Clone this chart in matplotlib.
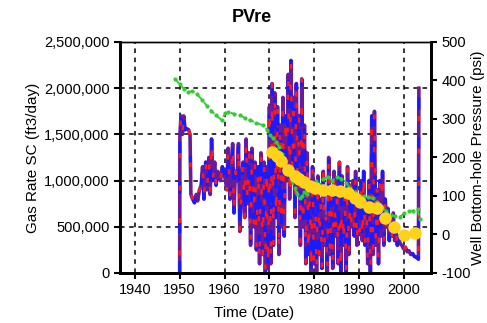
import numpy as np
import matplotlib
matplotlib.use("Agg")
import matplotlib.pyplot as plt

plt.rcParams['font.family'] = ['Liberation Sans', 'DejaVu Sans']

# gas rate (ft3/day)
rate_years = [1950.0, 1950.05, 1950.3, 1950.6, 1950.9, 1951.2, 1951.6, 1952.0, 1952.3, 1952.5,
              1952.9, 1953.3, 1953.7, 1954.0, 1954.4, 1954.8, 1955.1, 1955.4, 1955.8, 1956.1,
              1956.5, 1956.8, 1957.1, 1957.4, 1957.8, 1958.1, 1958.5, 1958.8, 1959.1, 1959.5,
              1959.8, 1960.2, 1960.5, 1960.8, 1961.2, 1961.5, 1961.8, 1962.1, 1962.4, 1962.8,
              1963.1, 1963.4, 1963.8, 1964.1, 1964.5, 1964.8, 1965.1, 1965.5, 1965.8, 1966.1,
              1966.5, 1966.8, 1967.1, 1967.5, 1967.8, 1968.1, 1968.5, 1968.8, 1969.1, 1969.4,
              1969.7, 1970.0, 1970.3, 1970.6, 1970.9, 1971.2, 1971.5, 1971.8, 1972.1, 1972.4,
              1972.7, 1973.0, 1973.3, 1973.6, 1973.9, 1974.2, 1974.5, 1974.8, 1975.1, 1975.4,
              1975.7, 1976.0, 1976.3, 1976.6, 1976.9, 1977.2, 1977.5, 1977.8, 1978.1, 1978.4,
              1978.7, 1979.0, 1979.3, 1979.6, 1979.9, 1980.2, 1980.5, 1980.8, 1981.1, 1981.4,
              1981.7, 1982.0, 1982.3, 1982.6, 1982.9, 1983.2, 1983.5, 1983.8, 1984.1, 1984.4,
              1984.7, 1985.0, 1985.3, 1985.6, 1985.9, 1986.2, 1986.5, 1986.8, 1987.1, 1987.4,
              1987.7, 1988.0, 1988.3, 1988.6, 1988.9, 1989.2, 1989.5, 1989.8, 1990.1, 1990.4,
              1990.7, 1991.0, 1991.3, 1991.6, 1991.9, 1992.2, 1992.5, 1992.8, 1993.1, 1993.4,
              1993.7, 1994.0, 1994.3, 1994.6, 1994.9, 1995.2, 1995.5, 1995.8, 1996.1, 1996.4,
              1996.7, 1997.0, 1997.3, 1997.6, 1997.9, 1998.2, 1998.5, 1998.8, 1999.1, 1999.5,
              1999.9, 2000.3, 2000.7, 2001.1, 2001.5, 2001.9, 2002.3, 2002.7, 2003.0, 2003.2,
              2003.3]
rate_vals = [0, 1500, 1700, 1500, 1700, 1550, 1560, 1550, 1500, 850,
             800, 760, 850, 780, 900, 950, 1150, 800, 1200, 900,
             1250, 850, 1450, 1000, 1200, 950, 1100, 1050, 1000, 1150,
             1100, 1000, 900, 1350, 800, 1050, 1400, 650, 1100, 1000,
             1400, 450, 950, 1200, 600, 1450, 750, 1300, 300, 1350,
             500, 1200, 250, 1150, 100, 1300, 200, 1200, 0, 1150,
             50, 1800, 100, 2050, 300, 1950, 600, 1800, 200, 1600,
             500, 1900, 400, 1700, 1000, 2150, 800, 2300, 1100, 1900,
             600, 2050, 900, 1700, 300, 2100, 500, 1600, 100, 1300,
             200, 1000, 0, 1150, 100, 900, 0, 1050, 200, 800,
             50, 1100, 300, 600, 0, 1250, 200, 900, 50, 1100,
             400, 1000, 100, 1200, 0, 1050, 300, 900, 0, 1150,
             200, 950, 500, 1000, 400, 1100, 300, 800, 450, 1000,
             350, 1100, 300, 800, 100, 1000, 0, 1700, 200, 1750,
             300, 900, 100, 1000, 400, 1100, 300, 800, 500, 700,
             350, 600, 400, 650, 350, 450, 300, 400, 320, 300,
             260, 280, 230, 240, 200, 210, 180, 170, 160, 150,
             2000]
rate_vals = [v * 1000 for v in rate_vals]

# well bottom-hole pressure (psi), green series
press_years = [1949.0, 1950.0, 1951.0, 1951.8, 1952.8, 1953.8, 1955.0, 1956.0, 1957.0, 1958.0,
               1959.4, 1960.1, 1960.8, 1962.0, 1963.4, 1964.5, 1965.7, 1967.0, 1968.6, 1969.5,
               1970.1, 1970.8, 1971.5, 1972.2, 1972.8, 1973.5, 1974.2, 1975.0, 1975.6, 1976.2,
               1976.8, 1977.3, 1977.8, 1978.3, 1978.8, 1979.5, 1980.3, 1981.0, 1982.0, 1983.0,
               1984.0, 1985.0, 1986.0, 1987.0, 1988.0, 1989.0, 1990.0, 1991.0, 1992.0, 1993.0,
               1994.0, 1995.0, 1996.0, 1997.0, 1998.0, 1999.0, 2000.0, 2001.0, 2002.0, 2003.0,
               2003.5]
press_vals = [404, 390, 378, 370, 372, 365, 350, 335, 322, 310,
              297, 315, 318, 314, 310, 303, 297, 290, 284, 272,
              258, 250, 240, 228, 210, 185, 160, 140, 120, 105,
              95, 100, 110, 105, 125, 135, 140, 130, 145, 150,
              140, 150, 145, 135, 120, 110, 100, 100, 97, 95,
              85, 72, 60, 50, 48, 45, 55, 60, 62, 65,
              40]

# calculated pressure points (yellow)
calc_years = [1970.6, 1971.6, 1972.5, 1974.2, 1975.6, 1976.6, 1977.6, 1979.0, 1980.2, 1982.0,
              1983.9, 1985.8, 1987.6, 1989.0, 1990.2, 1992.1, 1993.9, 1995.8, 1997.7, 1999.9,
              2002.5]
calc_vals = [215, 203, 192, 167, 152, 144, 137, 127, 122, 116,
             116, 112, 107, 95, 85, 72, 68, 42, 20, -1,
             3]

year_ticks = [1940, 1950, 1960, 1970, 1980, 1990, 2000]
rate_ticks = [0, 500000, 1000000, 1500000, 2000000, 2500000]
rate_ticklabels = ['0', '500,000', '1,000,000', '1,500,000', '2,000,000', '2,500,000']
press_ticks = [-100, 0, 100, 200, 300, 400, 500]
press_ticklabels = ['-100', '0', '100', '200', '300', '400', '500']

fig = plt.figure(figsize=(4.87, 3.23), dpi=100)
ax = fig.add_axes([0.2464, 0.1548, 0.6386, 0.7152])
ax2 = ax.twinx()

ax.set_xlim(1936.7, 2006)
ax.set_ylim(0, 2500000)
ax2.set_ylim(-100, 500)

# grid
for t in year_ticks:
    ax.axvline(t, color='black', lw=1.1, ls=(0, (3, 3)), zorder=0)
for t in rate_ticks[1:-1]:
    ax.axhline(t, color='black', lw=1.1, ls=(0, (3, 3)), zorder=0)

# gas rate: purple base with blue and red dashes on top
ax.plot(rate_years, rate_vals, color='#6a1a9a', lw=2.6, zorder=2)
ax.plot(rate_years, rate_vals, color='#1a1aff', lw=2.2, ls=(0, (4, 9)), zorder=3)
ax.plot(rate_years, rate_vals, color='#ff1a1a', lw=1.8, ls=(6, (2, 11)), zorder=4)

ax2.plot(press_years, press_vals, color='#33cc33', lw=1.4, ls=(0, (3, 2)),
         marker='o', markersize=2, zorder=5)
ax2.plot(calc_years, calc_vals, ls='none', marker='o', markersize=8,
         color='#ffd21a', markeredgecolor='#ffd21a', zorder=6)

ax.set_xticks(year_ticks)
ax.set_yticks(rate_ticks)
ax.set_yticklabels(rate_ticklabels)
ax2.set_yticks(press_ticks)
ax2.set_yticklabels(press_ticklabels)

ax.tick_params(axis='both', labelsize=10.5, length=4, width=1.5, direction='out')
ax2.tick_params(axis='y', labelsize=10.5, length=4, width=1.5, direction='out')

for a in (ax, ax2):
    a.spines['left'].set_linewidth(2)
    a.spines['right'].set_linewidth(2)
    a.spines['bottom'].set_linewidth(2)
    a.spines['top'].set_linewidth(1)

ax.set_ylabel('Gas Rate SC (ft3/day)', fontsize=11, va='center')
ax.yaxis.set_label_coords(-0.28, 0.5)
ax2.set_ylabel('Well Bottom-hole Pressure (psi)', fontsize=11, va='center')
ax2.yaxis.set_label_coords(1.152, 0.5)
ax.set_xlabel('Time (Date)', fontsize=11, va='center')
ax.xaxis.set_label_coords(0.431, -0.173)

fig.text(252 / 487, 1 - 18 / 323, 'PVre', fontsize=13, fontweight='bold',
         ha='center', va='center')

fig.savefig('out.png', dpi=100)
